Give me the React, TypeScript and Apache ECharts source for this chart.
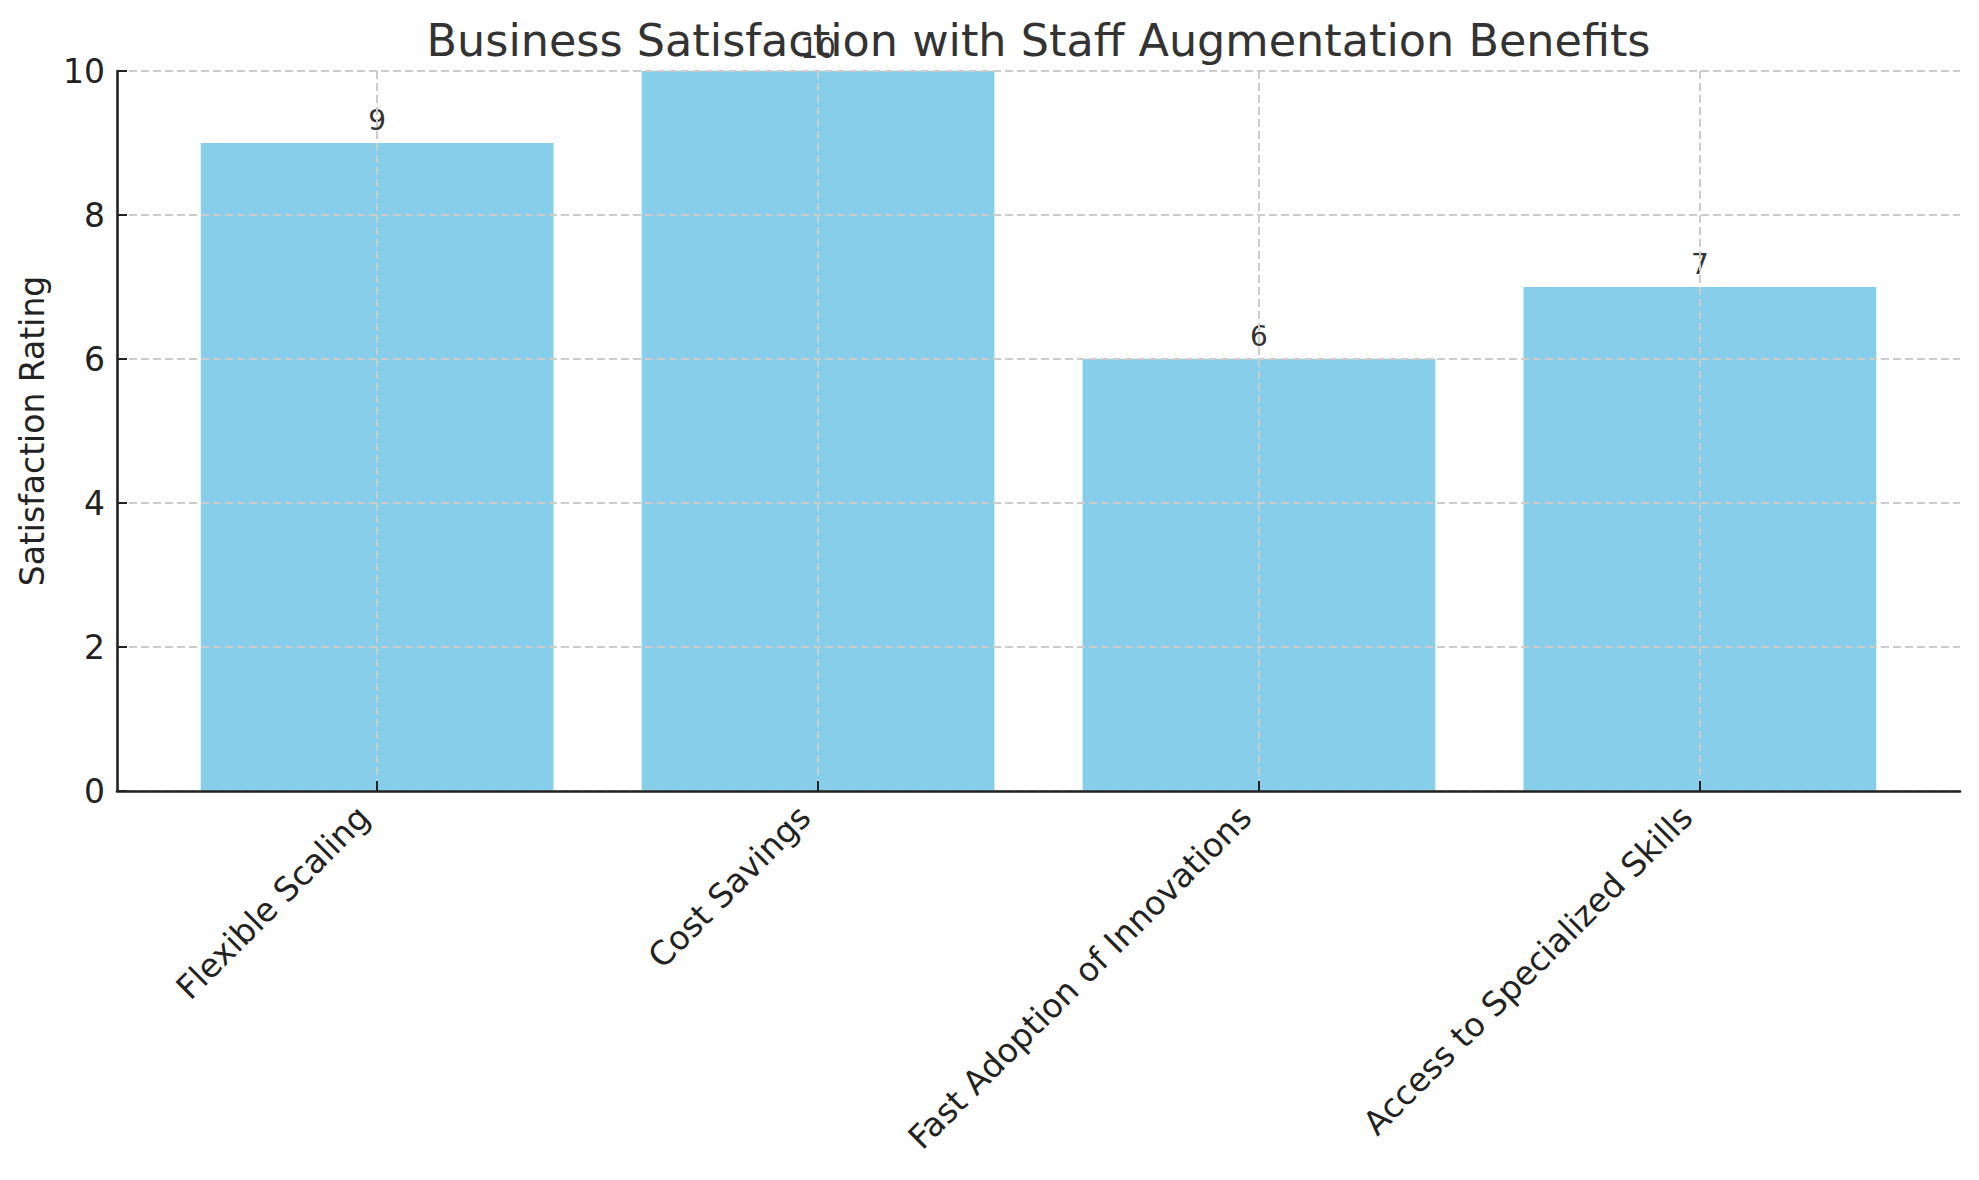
import React, { useEffect, useRef } from "react";
import * as echarts from "echarts";

const titleText = "Business Satisfaction with Staff Augmentation Benefits";
const yAxisTitle = "Satisfaction Rating";
const categories = [
  "Flexible Scaling",
  "Cost Savings",
  "Fast Adoption of Innovations",
  "Access to Specialized Skills",
];
const ratings = [9, 10, 6, 7];
const yMin = 0;
const yMax = 10;
const yStep = 2;

const FONT = "'DejaVu Sans', sans-serif";

export default function App() {
  const ref = useRef<HTMLDivElement>(null);

  useEffect(() => {
    if (!ref.current) return;
    const chart = echarts.init(ref.current, null, { renderer: "svg" });

    const gridLeft = 117;
    const gridTop = 71;
    const gridWidth = 1843;
    const gridHeight = 720;
    const xMin = -0.59;
    const xMax = categories.length - 1 + 0.59;
    const barWidth = (0.8 * gridWidth) / (xMax - xMin);
    const positions = categories.map((_, i) => i);

    const option: any = {
      animation: false,
      backgroundColor: "#ffffff",
      textStyle: { fontFamily: FONT },
      grid: {
        left: gridLeft,
        top: gridTop,
        width: gridWidth,
        height: gridHeight,
        containLabel: false,
        outerBoundsMode: "none",
      },
      graphic: [
        {
          type: "text",
          x: gridLeft + gridWidth / 2,
          y: 40,
          z: 10,
          style: {
            text: titleText,
            fontFamily: FONT,
            fontSize: 44.5,
            fill: "#333333",
            textAlign: "center",
            textVerticalAlign: "middle",
          },
        },
      ],
      xAxis: {
        type: "value",
        min: xMin,
        max: xMax,
        z: 3,
        axisLine: {
          show: true,
          onZero: false,
          lineStyle: { color: "#222222", width: 2.6 },
        },
        axisTick: {
          show: true,
          inside: true,
          length: 10,
          customValues: positions,
          lineStyle: { color: "#222222", width: 2 },
        },
        axisLabel: {
          show: true,
          customValues: positions,
          formatter: (v: number) => categories[Math.round(v)] ?? "",
          rotate: 45,
          fontSize: 33,
          fontFamily: FONT,
          color: "#222222",
          verticalAlign: "bottom",
          align: "right",
          margin: 34,
          lineHeight: 38,
        },
        splitLine: {
          show: true,
          lineStyle: { color: "#cccccc", width: 2, type: [8, 4] },
        },
      },
      yAxis: {
        type: "value",
        min: yMin,
        max: yMax,
        interval: yStep,
        z: 3,
        name: yAxisTitle,
        nameLocation: "middle",
        nameRotate: 90,
        nameGap: 68,
        nameTextStyle: { fontSize: 33, fontFamily: FONT, color: "#222222" },
        axisLine: {
          show: true,
          onZero: false,
          lineStyle: { color: "#222222", width: 2.6 },
        },
        axisTick: {
          show: true,
          inside: true,
          length: 10,
          lineStyle: { color: "#222222", width: 2 },
        },
        axisLabel: {
          fontSize: 33,
          fontFamily: FONT,
          color: "#222222",
          margin: 12,
        },
        splitLine: {
          show: true,
          lineStyle: { color: "#cccccc", width: 2, type: [8, 4] },
        },
      },
      series: [
        {
          type: "bar",
          z: 2,
          barWidth: barWidth,
          data: ratings.map((v, i) => [positions[i], v]),
          itemStyle: { color: "#87CEEB" },
          label: {
            show: true,
            position: "top",
            distance: 9,
            fontSize: 28,
            fontFamily: FONT,
            color: "#333333",
            formatter: (p: any) => String(p.value[1]),
          },
        },
      ],
    };

    chart.setOption(option);
    return () => chart.dispose();
  }, []);

  return (
    <div
      ref={ref}
      style={{ position: "fixed", left: 0, top: 0, width: 1979, height: 1180, background: "#fff" }}
    />
  );
}
